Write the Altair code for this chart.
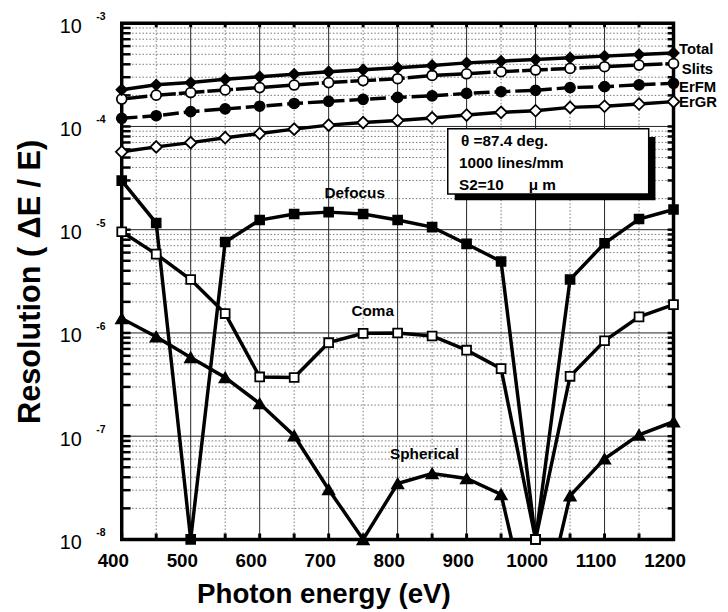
import altair as alt
import pandas as pd

FONT = "Liberation Sans"

# ---------------- data ----------------
energy = [400, 450, 500, 550, 600, 650, 700, 750, 800, 850, 900, 950, 1000, 1050, 1100, 1150, 1200]

total = [2.27e-4, 2.53e-4, 2.66e-4, 2.86e-4, 3.03e-4, 3.21e-4, 3.39e-4, 3.54e-4, 3.71e-4,
         3.90e-4, 4.13e-4, 4.29e-4, 4.45e-4, 4.62e-4, 4.80e-4, 4.97e-4, 5.15e-4]
slits = [1.84e-4, 2.01e-4, 2.13e-4, 2.26e-4, 2.38e-4, 2.52e-4, 2.66e-4, 2.78e-4, 2.90e-4,
         3.12e-4, 3.24e-4, 3.39e-4, 3.52e-4, 3.65e-4, 3.79e-4, 3.93e-4, 4.07e-4]
erfm = [1.20e-4, 1.27e-4, 1.39e-4, 1.48e-4, 1.57e-4, 1.67e-4, 1.75e-4, 1.83e-4, 1.91e-4,
        1.98e-4, 2.09e-4, 2.17e-4, 2.24e-4, 2.38e-4, 2.43e-4, 2.53e-4, 2.62e-4]
ergr = [5.68e-5, 6.34e-5, 6.97e-5, 7.78e-5, 8.53e-5, 9.42e-5, 1.03e-4, 1.09e-4, 1.14e-4,
        1.21e-4, 1.29e-4, 1.37e-4, 1.42e-4, 1.53e-4, 1.57e-4, 1.65e-4, 1.74e-4]
defocus = [2.99e-5, 1.16e-5, 1.0e-8, 7.60e-6, 1.24e-5, 1.42e-5, 1.48e-5, 1.42e-5, 1.24e-5,
           1.06e-5, 7.28e-6, 4.92e-6, 1.0e-8, 3.29e-6, 7.39e-6, 1.27e-5, 1.57e-5]
coma = [9.55e-6, 5.80e-6, 3.29e-6, 1.54e-6, 3.75e-7, 3.70e-7, 8.05e-7, 9.91e-7, 1.00e-6,
        9.34e-7, 6.81e-7, 4.51e-7, 1.0e-8, 3.80e-7, 8.41e-7, 1.43e-6, 1.88e-6]
spherical = [1.38e-6, 9.20e-7, 5.79e-7, 3.70e-7, 2.07e-7, 1.01e-7, 3.05e-8, 1.0e-8, 3.48e-8,
             4.35e-8, 3.89e-8, 2.73e-8, 1.0e-9, 2.65e-8, 6.04e-8, 1.03e-7, 1.38e-7]

# axis / grid values
x_label_values = [400, 500, 600, 700, 800, 900, 1000, 1100, 1200]
x_tick_values = [400, 450, 500, 550, 600, 650, 700, 750, 800, 850, 900, 950, 1000, 1050, 1100, 1150, 1200]
x_major_grid = [500, 600, 700, 800, 900, 1000, 1100]
x_minor_grid = [450, 550, 650, 750, 850, 950, 1050, 1150]
y_decades = [1e-8, 1e-7, 1e-6, 1e-5, 1e-4, 1e-3]
y_exponents = ["-8", "-7", "-6", "-5", "-4", "-3"]
y_major_grid = [1e-7, 1e-6, 1e-5, 1e-4]
y_minor_grid = [m * d for d in [1e-8, 1e-7, 1e-6, 1e-5, 1e-4] for m in range(2, 10)]
y_tick_values = y_minor_grid + y_decades

# annotations (data coordinates)
series_labels = ["Total", "Slits", "ErFM", "ErGR"]
series_label_x = [1208, 1212, 1208, 1208]
series_label_y = [5.08e-4, 3.20e-4, 2.135e-4, 1.535e-4]
curve_labels = ["Defocus", "Coma", "Spherical"]
curve_label_x = [694, 733, 789]
curve_label_y = [2.04e-5, 1.46e-6, 6.01e-8]
box_texts = ["\u03b8 =87.4 deg.", "1000 lines/mm", "S2=10", "\u03bc m"]
box_text_x = [892, 889, 889, 990]
box_text_y = [6.45e-5, 3.94e-5, 2.44e-5, 2.44e-5]
box_x = [872.7, 1164]
box_y = [9.51e-5, 2.22e-5]
shadow_x = [882.8, 1173.8]
shadow_y = [7.92e-5, 1.93e-5]

W, H = 558, 522

xs = alt.Scale(domain=[400, 1200], nice=False, zero=False)
ys = alt.Scale(type="log", domain=[1e-8, 1e-3], nice=False)

x_axis = alt.Axis(
    values=x_label_values, format="d", domain=False, ticks=False, tickSize=0, grid=False,
    labelFont=FONT, labelFontWeight="bold", labelFontSize=19, labelColor="black",
    labelPadding=12, labelOffset=-9, labelFlush=False, labelOverlap=False,
    title="Photon energy (eV)", titleFont=FONT, titleFontSize=28, titleFontWeight="bold",
    titleColor="black", titleX=204, titleY=64, titleBaseline="alphabetic", titleAlign="center")
y_axis = alt.Axis(
    values=y_decades, labelExpr="'10'", domain=False, ticks=False, tickSize=0, grid=False,
    labelFont=FONT, labelFontSize=20, labelFontWeight="normal", labelColor="black",
    labelPadding=41, labelOffset=3, labelBaseline="middle", labelAlign="right",
    labelFlush=False, labelOverlap=False,
    title="Resolution  ( \u0394E / E)", titleFont=FONT, titleFontSize=31, titleFontWeight="bold",
    titleColor="black", titleX=-83, titleBaseline="alphabetic", titleAngle=270, titleAlign="center")


def X(field):
    return alt.X(field, scale=xs, axis=x_axis)


def Y(field):
    return alt.Y(field, scale=ys, axis=y_axis)


layers = []

# ---- gridlines ----
layers.append(alt.Chart(pd.DataFrame({"x": x_major_grid})).mark_rule(color="#222", strokeWidth=1)
              .encode(x=X("x:Q")))
layers.append(alt.Chart(pd.DataFrame({"x": x_minor_grid})).mark_rule(color="#666", strokeWidth=0.9, strokeDash=[1.5, 2])
              .encode(x=X("x:Q")))
layers.append(alt.Chart(pd.DataFrame({"y": y_major_grid})).mark_rule(color="#222", strokeWidth=1)
              .encode(y=Y("y:Q")))
layers.append(alt.Chart(pd.DataFrame({"y": y_minor_grid})).mark_rule(color="#666", strokeWidth=0.9, strokeDash=[1.5, 2])
              .encode(y=Y("y:Q")))

# ---- inward ticks ----
ydf = pd.DataFrame({"y": y_tick_values})
layers.append(alt.Chart(ydf).mark_rule(color="black", strokeWidth=2.5).encode(
    y=Y("y:Q"), x=alt.value(0), x2=alt.value(9)))
layers.append(alt.Chart(ydf).mark_rule(color="black", strokeWidth=2.5).encode(
    y=Y("y:Q"), x=alt.value(W - 6), x2=alt.value(W)))
xdf = pd.DataFrame({"x": x_tick_values})
layers.append(alt.Chart(xdf).mark_rule(color="black", strokeWidth=3).encode(
    x=X("x:Q"), y=alt.value(H - 6), y2=alt.value(H)))
layers.append(alt.Chart(xdf).mark_rule(color="black", strokeWidth=3).encode(
    x=X("x:Q"), y=alt.value(0), y2=alt.value(4)))

# ---- y exponent labels ----
layers.append(alt.Chart(pd.DataFrame({"y": y_decades, "t": y_exponents})).mark_text(
    font=FONT, fontSize=10.5, fontWeight="bold", color="black", align="center", baseline="middle", dy=-6
).encode(y=Y("y:Q"), x=alt.value(-21), text="t:N"))

# ---- info box with shadow ----
layers.append(alt.Chart(pd.DataFrame({"x": [shadow_x[0]], "x2": [shadow_x[1]], "y": [shadow_y[0]], "y2": [shadow_y[1]]}))
              .mark_rect(color="black").encode(x=X("x:Q"), x2="x2:Q", y=Y("y:Q"), y2="y2:Q"))
layers.append(alt.Chart(pd.DataFrame({"x": [box_x[0]], "x2": [box_x[1]], "y": [box_y[0]], "y2": [box_y[1]]}))
              .mark_rect(fill="white", stroke="black", strokeWidth=1.5).encode(x=X("x:Q"), x2="x2:Q", y=Y("y:Q"), y2="y2:Q"))
layers.append(alt.Chart(pd.DataFrame({"x": box_text_x, "y": box_text_y, "t": box_texts})).mark_text(
    font=FONT, fontSize=15.5, fontWeight="bold", color="black", align="left", baseline="alphabetic"
).encode(x=X("x:Q"), y=Y("y:Q"), text="t:N"))


# ---- series ----
def series(vals, shape, fill, size, dash=None):
    df = pd.DataFrame({"energy": energy, "value": vals})
    kw = dict(color="black", strokeWidth=3.5, clip=True)
    if dash:
        kw["strokeDash"] = dash
    line = alt.Chart(df).mark_line(**kw).encode(x=X("energy:Q"), y=Y("value:Q"))
    pts = alt.Chart(df[df["value"] >= 1e-8]).mark_point(
        shape=shape, filled=True, fill=fill, stroke="black", strokeWidth=1.8, size=size, opacity=1
    ).encode(x=X("energy:Q"), y=Y("value:Q"))
    return [line, pts]


layers += series(ergr, "diamond", "white", 140)
layers += series(erfm, "circle", "black", 100, dash=[16, 5])
layers += series(slits, "circle", "white", 100, dash=[26, 3])
layers += series(total, "diamond", "black", 110)
layers += series(spherical, "triangle-up", "black", 130)
layers += series(defocus, "square", "black", 80)
layers += series(coma, "square", "white", 80)

# ---- labels ----
layers.append(alt.Chart(pd.DataFrame({"x": series_label_x, "y": series_label_y, "t": series_labels})).mark_text(
    font=FONT, fontSize=15, fontWeight="bold", color="black", align="left", baseline="alphabetic"
).encode(x=X("x:Q"), y=Y("y:Q"), text="t:N"))
layers.append(alt.Chart(pd.DataFrame({"x": curve_label_x, "y": curve_label_y, "t": curve_labels})).mark_text(
    font=FONT, fontSize=15.5, fontWeight="bold", color="black", align="left", baseline="alphabetic"
).encode(x=X("x:Q"), y=Y("y:Q"), text="t:N"))

chart = alt.layer(*layers).properties(
    width=W, height=H,
    padding={"left": 115, "top": 12, "right": 47, "bottom": 70},
    autosize=alt.AutoSizeParams(type="none"),
    background="white",
).configure_view(stroke="black", strokeWidth=3.5)

chart.save("out.html", embed_options={"renderer": "svg", "actions": False})
